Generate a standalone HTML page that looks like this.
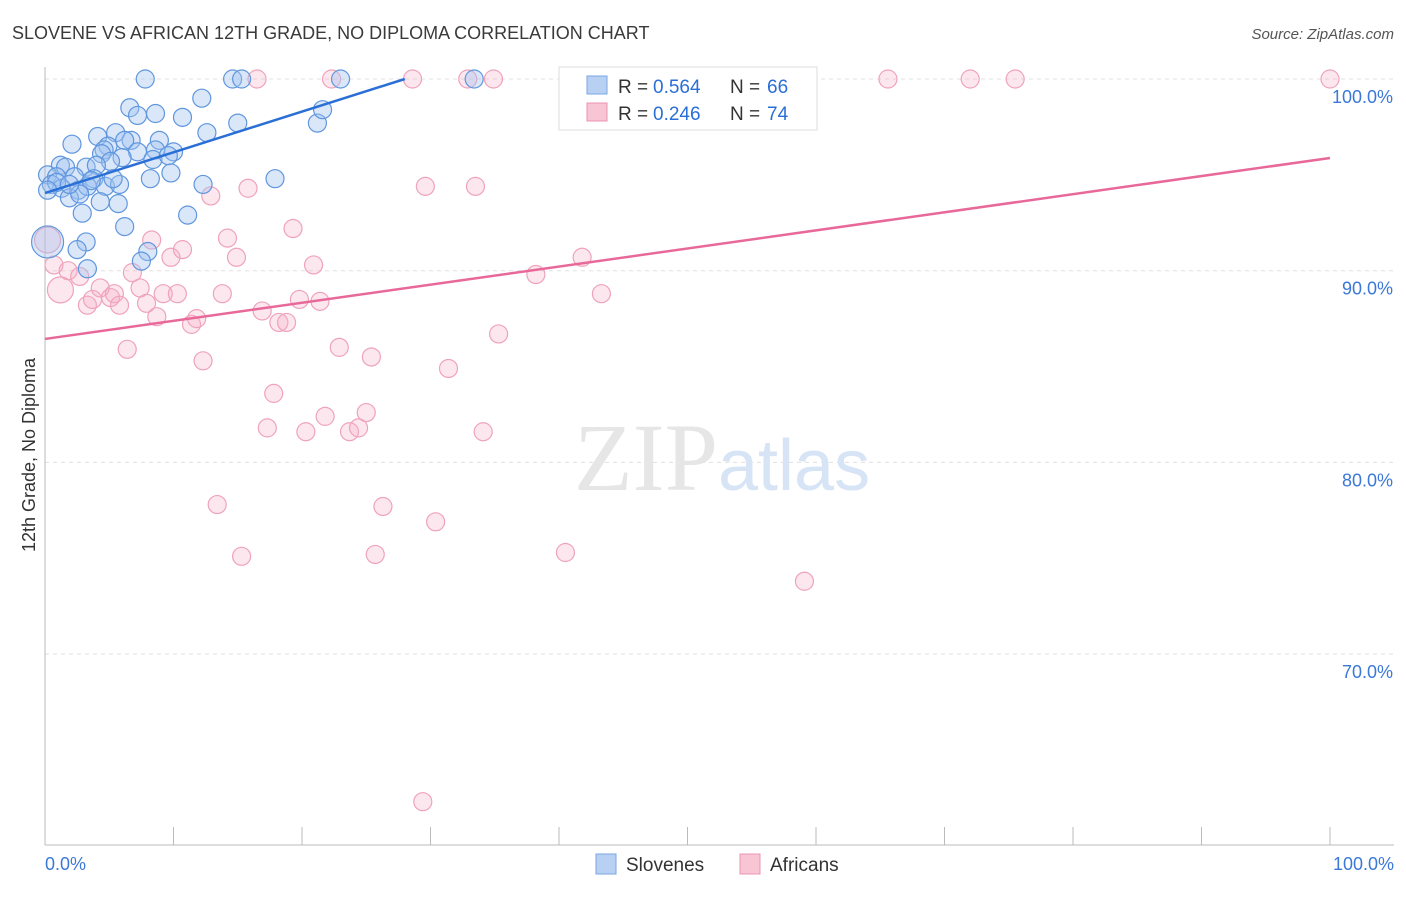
<!DOCTYPE html>
<html><head><meta charset="utf-8"><style>
body{margin:0;background:#fff;font-family:"Liberation Sans",sans-serif;}
</style></head><body>
<svg width="1406" height="892" xmlns="http://www.w3.org/2000/svg">
<text x="12" y="39" font-size="18" fill="#3a3a3a">SLOVENE VS AFRICAN 12TH GRADE, NO DIPLOMA CORRELATION CHART</text>
<text x="1394" y="39" font-size="15" fill="#555" font-style="italic" text-anchor="end">Source: ZipAtlas.com</text>
<g id="grid"></g>
<text x="718" y="490" font-size="96" fill="#e6e6e6" font-family="Liberation Serif" text-anchor="end">ZIP</text>
<text x="718" y="490" font-size="72" fill="#d6e4f6">atlas</text>
<g id="pts"></g>
<g id="lines"></g>
<text transform="translate(35,455) rotate(-90)" font-size="18" fill="#333" text-anchor="middle">12th Grade, No Diploma</text>
<g>
<rect x="559" y="67" width="258" height="63" fill="#fff" stroke="#ddd"/>
<rect x="587" y="76" width="20" height="18" fill="#b8d1f3" stroke="#7aa6e6"/>
<rect x="587" y="103" width="20" height="18" fill="#f8c5d4" stroke="#ec94b0"/>
<text x="618" y="93" font-size="19" fill="#333">R =</text>
<text x="653" y="93" font-size="19" fill="#2a6fd6">0.564</text>
<text x="730" y="93" font-size="19" fill="#333">N =</text>
<text x="767" y="93" font-size="19" fill="#2a6fd6">66</text>
<text x="618" y="120" font-size="19" fill="#333">R =</text>
<text x="653" y="120" font-size="19" fill="#2a6fd6">0.246</text>
<text x="730" y="120" font-size="19" fill="#333">N =</text>
<text x="767" y="120" font-size="19" fill="#2a6fd6">74</text>
</g>
<g>
<rect x="596" y="854" width="20" height="20" fill="#b8d1f3" stroke="#7aa6e6"/>
<text x="626" y="871" font-size="19" fill="#333">Slovenes</text>
<rect x="740" y="854" width="20" height="20" fill="#f8c5d4" stroke="#ec94b0"/>
<text x="770" y="871" font-size="19" fill="#333">Africans</text>
</g>
</svg>
<script>
const yTicks=[100,90,80,70];
const yTickLabels=["100.0%","90.0%","80.0%","70.0%"];
const xTickLabels=["0.0%","100.0%"];
const blueX=[7.8,14.6,15.3,23.0,33.4,6.6,8.6,7.2,12.2,10.7,15.0,12.6,4.1,5.5,6.7,8.9,2.1,4.9,4.6,6.2,7.2,10.0,8.6,4.4,6.0,5.1,8.4,9.6,1.2,1.6,3.2,4.0,0.2,0.9,2.3,3.8,0.5,1.3,2.6,3.3,4.7,5.8,8.2,9.8,12.3,5.3,1.9,2.7,4.3,5.7,2.9,11.1,6.2,17.9,21.2,21.6,0.2,3.2,2.5,8.0,7.5,3.3,0.9,0.2,3.6,1.9];
const blueY=[100,100,100,100,100,98.5,98.2,98.1,99.0,98.0,97.7,97.2,97.0,97.2,96.8,96.8,96.6,96.5,96.3,96.8,96.2,96.2,96.3,96.1,95.9,95.7,95.8,96.0,95.5,95.4,95.4,95.5,95.0,94.9,94.9,94.8,94.5,94.3,94.2,94.4,94.4,94.5,94.8,95.1,94.5,94.8,93.8,94.0,93.6,93.5,93.0,92.9,92.3,94.8,97.7,98.4,91.5,91.5,91.1,91.0,90.5,90.1,94.6,94.2,94.7,94.5];
const blueBig=[56];
const pinkX=[16.5,22.3,28.6,32.9,34.9,42.4,52.3,65.6,72.0,75.5,100.0,55.5,0.2,1.2,0.7,1.8,2.7,3.3,3.7,4.3,5.1,5.4,5.8,6.8,6.4,7.4,7.9,8.3,8.7,9.2,9.8,10.3,10.7,11.4,11.8,12.3,12.9,13.8,14.2,14.9,15.8,16.9,17.3,17.8,18.2,18.8,19.3,19.8,20.3,20.9,21.4,21.8,22.9,23.7,24.4,25.0,25.4,25.7,26.3,13.4,15.3,29.6,30.4,31.4,33.5,34.1,35.3,38.2,40.5,41.8,43.3,59.1,29.4];
const pinkY=[100,100,100,100,100,100,100,100,100,100,100,99.2,91.6,89.0,90.3,90.0,89.7,88.2,88.5,89.1,88.6,88.8,88.2,89.9,85.9,89.1,88.3,91.6,87.6,88.8,90.7,88.8,91.1,87.2,87.5,85.3,93.9,88.8,91.7,90.7,94.3,87.9,81.8,83.6,87.3,87.3,92.2,88.5,81.6,90.3,88.4,82.4,86.0,81.6,81.8,82.6,85.5,75.2,77.7,77.8,75.1,94.4,76.9,84.9,94.4,81.6,86.7,89.8,75.3,90.7,88.8,73.8,62.3];
const pinkBig=[12,13];
const blueTrend=[[0,94.05],[28.0,100]];
const pinkTrend=[[0,86.44],[100,95.88]];
const X=v=>45+v*12.85, Y=v=>79+(100-v)*19.17;
const NS="http://www.w3.org/2000/svg";
function mk(t,a,p){const e=document.createElementNS(NS,t);for(const k in a)e.setAttribute(k,a[k]);p.appendChild(e);return e;}
const grid=document.getElementById('grid'),pts=document.getElementById('pts'),lines=document.getElementById('lines');
yTicks.forEach((t,i)=>{
 const l=mk('line',{x1:45,x2:1394,y1:Y(t),y2:Y(t),stroke:'#e0e0e0','stroke-dasharray':'4,4'},grid);
 
 
 const tx=mk('text',{x:1393,y:Y(t)+24,'font-size':18,fill:'#3b78d8','text-anchor':'end'},grid);
 tx.textContent=yTickLabels[i];
 
 
});
const ax=mk('line',{x1:45,x2:45,y1:67,y2:845,stroke:'#bbb'},grid);


const bx=mk('line',{x1:45,x2:1394,y1:845,y2:845,stroke:'#bbb'},grid);


for(let i=1;i<=10;i++){const t=mk('line',{x1:X(i*10),x2:X(i*10),y1:827,y2:845,stroke:'#bbb'},grid);
 
 }
[[0,'start',45],[100,'end',1394]].forEach((d,i)=>{const t=mk('text',{x:d[2],y:870,'font-size':18,fill:'#3b78d8','text-anchor':d[1]},grid);t.textContent=xTickLabels[i];
 
 });
pinkX.forEach((x,i)=>{const c=mk('circle',{cx:X(x),cy:Y(pinkY[i]),r:pinkBig.includes(i)?13:9,fill:'rgba(246,176,198,0.3)',stroke:'#efa3bb','stroke-width':1.2},pts);
 
 });
blueX.forEach((x,i)=>{const c=mk('circle',{cx:X(x),cy:Y(blueY[i]),r:blueBig.includes(i)?16:9,fill:'rgba(160,196,240,0.4)',stroke:'#5f96de','stroke-width':1.2},pts);
 
 });
const bl=mk('line',{x1:X(blueTrend[0][0]),y1:Y(blueTrend[0][1]),x2:X(blueTrend[1][0]),y2:Y(blueTrend[1][1]),stroke:'#2a6fd6','stroke-width':2.5},lines);


const pl=mk('line',{x1:X(pinkTrend[0][0]),y1:Y(pinkTrend[0][1]),x2:X(pinkTrend[1][0]),y2:Y(pinkTrend[1][1]),stroke:'#e8689a','stroke-width':2.5},lines);


</script>
</body></html>
